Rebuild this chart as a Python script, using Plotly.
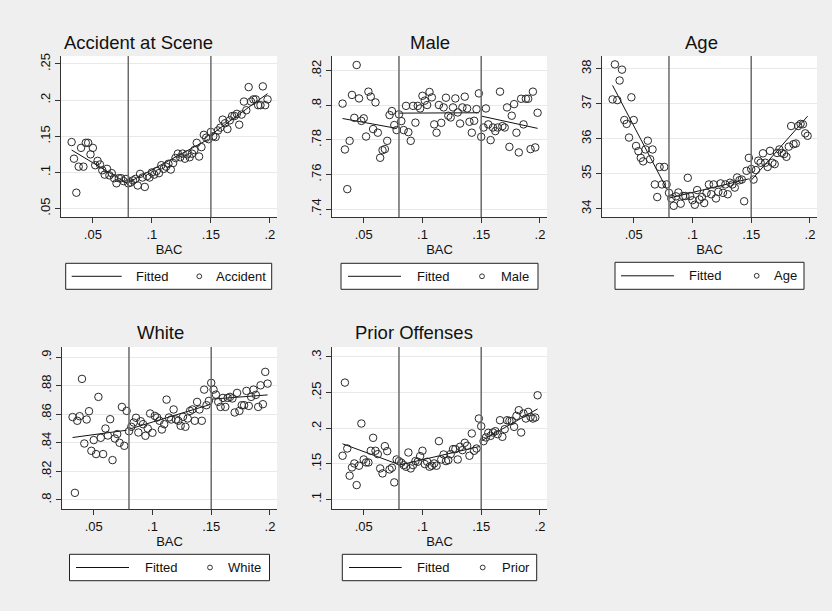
import plotly.graph_objects as go

W, H = 832, 611

# ---------------- data ----------------
bac = [0.032, 0.034, 0.036, 0.038, 0.040, 0.042, 0.044, 0.046, 0.048, 0.050,
       0.052, 0.054, 0.056, 0.058, 0.060, 0.062, 0.064, 0.066, 0.068, 0.070,
       0.072, 0.074, 0.076, 0.078, 0.080, 0.082, 0.084, 0.086, 0.088, 0.090,
       0.092, 0.094, 0.096, 0.098, 0.100, 0.102, 0.104, 0.106, 0.108, 0.110,
       0.112, 0.114, 0.116, 0.118, 0.120, 0.122, 0.124, 0.126, 0.128, 0.130,
       0.132, 0.134, 0.136, 0.138, 0.140, 0.142, 0.144, 0.146, 0.148, 0.150,
       0.152, 0.154, 0.156, 0.158, 0.160, 0.162, 0.164, 0.166, 0.168, 0.170,
       0.172, 0.174, 0.176, 0.178, 0.180, 0.182, 0.184, 0.186, 0.188, 0.190,
       0.192, 0.194, 0.196, 0.198]

cutoffs = [0.08, 0.15]
fit_x = [[0.032, 0.078], [0.080, 0.148], [0.150, 0.198]]

accident = [0.142, 0.119, 0.072, 0.108, 0.134, 0.108, 0.141, 0.141, 0.125, 0.134,
            0.110, 0.116, 0.111, 0.103, 0.097, 0.105, 0.096, 0.099, 0.092, 0.085,
            0.092, 0.092, 0.088, 0.091,
            0.085, 0.086, 0.089, 0.091, 0.082, 0.098, 0.093, 0.080, 0.095, 0.093,
            0.100, 0.097, 0.102, 0.099, 0.110, 0.105, 0.108, 0.112, 0.104, 0.113,
            0.120, 0.126, 0.121, 0.126, 0.119, 0.125, 0.121, 0.126, 0.131, 0.141,
            0.122, 0.135, 0.152, 0.148, 0.146,
            0.156, 0.150, 0.149, 0.158, 0.162, 0.173, 0.168, 0.160, 0.172, 0.178,
            0.178, 0.181, 0.166, 0.180, 0.198, 0.186, 0.218, 0.198, 0.201, 0.201,
            0.193, 0.193, 0.219, 0.193, 0.201]
accident_fit = [[0.131, 0.086], [0.086, 0.146], [0.152, 0.209]]

male = [0.801, 0.7745, 0.7516, 0.7795, 0.806, 0.7928, 0.8233, 0.804, 0.791, 0.7925,
        0.782, 0.8079, 0.805, 0.7863, 0.8017, 0.7842, 0.7697, 0.7741, 0.7747, 0.7795,
        0.7944, 0.7967, 0.7886, 0.7857,
        0.7948, 0.7909, 0.7857, 0.7997, 0.7845, 0.7795, 0.7997, 0.790, 0.7997, 0.7982,
        0.8055, 0.8027, 0.8002, 0.8077, 0.8046, 0.7890, 0.7842, 0.8002, 0.7899, 0.7988,
        0.8044, 0.7940, 0.7930, 0.7988, 0.8040, 0.7959, 0.7895, 0.7988, 0.8050, 0.7982,
        0.7905, 0.7842, 0.7911, 0.7978, 0.8069,
        0.7818, 0.7872, 0.7982, 0.7890, 0.7799, 0.7872, 0.7851, 0.7872, 0.8079, 0.7880,
        0.7872, 0.7988, 0.7760, 0.7940, 0.8007, 0.7842, 0.7728, 0.8038, 0.7890, 0.8038,
        0.8038, 0.7747, 0.8079, 0.7757, 0.7957]
male_fit = [[0.7924, 0.7867], [0.7955, 0.7957], [0.7938, 0.7867]]

age = [37.12, 38.12, 37.10, 37.66, 37.97, 36.53, 36.42, 36.03, 37.18, 36.53,
       35.79, 35.64, 35.45, 35.35, 35.69, 35.94, 35.41, 35.69, 34.69, 34.33,
       35.19, 34.69, 35.19, 34.69,
       34.45, 34.29, 34.08, 34.35, 34.46, 34.14, 34.36, 34.36, 34.88, 34.36,
       34.24, 34.11, 34.53, 34.26, 34.33, 34.16, 34.45, 34.69, 34.41, 34.69,
       34.29, 34.48, 34.72, 34.45, 34.69, 34.41, 34.74, 34.69, 34.60, 34.89,
       34.81, 34.83, 34.21, 35.08, 35.45,
       35.13, 34.83, 35.10, 35.37, 35.31, 35.58, 35.31, 35.19, 35.65, 35.31,
       35.27, 35.59, 35.69, 35.59, 35.56, 35.48, 35.77, 36.36, 35.84, 35.86,
       36.36, 36.42, 36.41, 36.15, 36.08]
age_fit = [[37.52, 34.57], [34.30, 34.85], [34.81, 36.64]]

white = [0.858, 0.805, 0.8554, 0.8586, 0.8847, 0.8395, 0.8563, 0.8621, 0.8344, 0.8419,
         0.8321, 0.8721, 0.8435, 0.8321, 0.850, 0.8451, 0.8565, 0.8279, 0.843, 0.8461,
         0.840, 0.8651, 0.8379, 0.8623,
         0.8481, 0.8512, 0.8542, 0.8575, 0.8472, 0.8551, 0.853, 0.8449, 0.850, 0.8605,
         0.847, 0.8588, 0.8577, 0.8554, 0.8493, 0.853, 0.8702, 0.8577, 0.8563, 0.8633,
         0.8563, 0.8554, 0.8519, 0.8582, 0.8512, 0.8570, 0.8623, 0.8633, 0.8554, 0.8686,
         0.8633, 0.8554, 0.8772, 0.8663, 0.8693,
         0.8819, 0.8772, 0.8737, 0.8686, 0.8651, 0.8714, 0.8651, 0.8714, 0.8721, 0.871,
         0.8612, 0.8749, 0.8623, 0.8663, 0.8663, 0.8763, 0.8658, 0.8721, 0.8772, 0.8735,
         0.8651, 0.8802, 0.867, 0.8896, 0.8814]
white_fit = [[0.8437, 0.8488], [0.8495, 0.8665], [0.8705, 0.8735]]

prior = [0.1612, 0.2640, 0.1714, 0.1332, 0.1448, 0.1504, 0.120, 0.1472, 0.2065, 0.156,
         0.1518, 0.1518, 0.1682, 0.1864, 0.1682, 0.1635, 0.1434, 0.1364, 0.1747, 0.1677,
         0.142, 0.1444, 0.1238, 0.156,
         0.1537, 0.1514, 0.1481, 0.1458, 0.1658, 0.1434, 0.1481, 0.1537, 0.1528, 0.1607,
         0.1682, 0.1495, 0.1528, 0.1458, 0.1472, 0.1504, 0.1472, 0.1817, 0.156, 0.163,
         0.1537, 0.1551, 0.1635, 0.1705, 0.1705, 0.156, 0.1738, 0.1691, 0.1794, 0.1752,
         0.1612, 0.1925, 0.1682, 0.1714, 0.2135,
         0.2027, 0.1817, 0.1869, 0.1934, 0.1892, 0.1939, 0.1957, 0.1915, 0.2111, 0.1878,
         0.1985, 0.2111, 0.2102, 0.2102, 0.2018, 0.2172, 0.2252, 0.1939, 0.2205, 0.2135,
         0.2228, 0.2158, 0.2135, 0.2149, 0.2462]
prior_fit = [[0.178, 0.150], [0.148, 0.174], [0.182, 0.227]]

x_ticks = [0.05, 0.10, 0.15, 0.20]
x_ticktext = [".05", ".1", ".15", ".2"]

accident_ticks = [0.05, 0.10, 0.15, 0.20, 0.25]
accident_ticktext = [".05", ".1", ".15", ".2", ".25"]
male_ticks = [0.74, 0.76, 0.78, 0.80, 0.82]
male_ticktext = [".74", ".76", ".78", ".8", ".82"]
age_ticks = [34, 35, 36, 37, 38]
age_ticktext = ["34", "35", "36", "37", "38"]
white_ticks = [0.80, 0.82, 0.84, 0.86, 0.88, 0.90]
white_ticktext = [".8", ".82", ".84", ".86", ".88", ".9"]
prior_ticks = [0.10, 0.15, 0.20, 0.25, 0.30]
prior_ticktext = [".1", ".15", ".2", ".25", ".3"]

titles = ["Accident at Scene", "Male", "Age", "White", "Prior Offenses"]
legend_labels = ["Accident", "Male", "Age", "White", "Prior"]

# ---------------- layout (pixel geometry) ----------------
FONT = "Arial, 'Liberation Sans', sans-serif"
AX = "#333333"

def fx(px):
    return px / W

def fy(py):
    return 1 - py / H

panels = [
    dict(y=accident, fit=accident_fit, ticks=accident_ticks, tt=accident_ticktext,
         yr=[0.0384, 0.261], box=(61, 56, 277, 217), tx=138.5, ty=42,
         leg=dict(b=(65.7, 263.3, 271.7, 289.3), l=(71.7, 121.7), f=134.3, c=199.3, t=214)),
    dict(y=male, fit=male_fit, ticks=male_ticks, tt=male_ticktext,
         yr=[0.7355, 0.8285], box=(332, 56, 547, 217), tx=430, ty=42,
         leg=dict(b=(341, 263.3, 538, 289.3), l=(348, 401), f=415, c=482, t=499)),
    dict(y=age, fit=age_fit, ticks=age_ticks, tt=age_ticktext,
         yr=[33.76, 38.36], box=(602, 56, 817, 217), tx=701.7, ty=42,
         leg=dict(b=(615, 262.3, 804, 289.3), l=(621, 674), f=687.3, c=756.7, t=771.7)),
    dict(y=white, fit=white_fit, ticks=white_ticks, tt=white_ticktext,
         yr=[0.7937, 0.907], box=(62, 347, 277, 509), tx=160.3, ty=332.5,
         leg=dict(b=(69.5, 554.3, 269.5, 580.7), l=(76, 129), f=142.5, c=210, t=226)),
    dict(y=prior, fit=prior_fit, ticks=prior_ticks, tt=prior_ticktext,
         yr=[0.0864, 0.314], box=(332, 347, 547, 509), tx=413.7, ty=332.5,
         leg=dict(b=(342.3, 554.3, 536.7, 580.7), l=(349, 401.7), f=415, c=482.7, t=500)),
]

fig = go.Figure()
shapes = []
annotations = []
layout_axes = {}

for i, p in enumerate(panels, start=1):
    xa = "x" if i == 1 else f"x{i}"
    ya = "y" if i == 1 else f"y{i}"
    # fitted segments
    fxs, fys = [], []
    for seg_x, seg_y in zip(fit_x, p["fit"]):
        fxs += [seg_x[0], seg_x[1], None]
        fys += [seg_y[0], seg_y[1], None]
    fig.add_trace(go.Scatter(x=fxs, y=fys, mode="lines", xaxis=xa, yaxis=ya,
                             line=dict(color="#111111", width=1), showlegend=False,
                             name="Fitted", hoverinfo="skip"))
    fig.add_trace(go.Scatter(x=bac, y=p["y"], mode="markers", xaxis=xa, yaxis=ya,
                             marker=dict(symbol="circle-open", size=7.5, color="#2a2a2a",
                                         line=dict(width=1, color="#2a2a2a")),
                             showlegend=False, name=legend_labels[i - 1]))
    x0, y0, x1, y1 = p["box"]
    xkey = "xaxis" if i == 1 else f"xaxis{i}"
    ykey = "yaxis" if i == 1 else f"yaxis{i}"
    layout_axes[xkey] = dict(
        domain=[fx(x0), fx(x1)], anchor=ya, range=[0.023, 0.206],
        tickvals=x_ticks, ticktext=x_ticktext, ticks="outside", ticklen=5,
        tickcolor=AX, showline=True, linecolor=AX, linewidth=1, mirror=False,
        showgrid=False, zeroline=False, automargin=False,
        tickfont=dict(family=FONT, size=13, color="#111111"),
        title=dict(text="BAC", font=dict(family=FONT, size=13, color="#111111"), standoff=2),
    )
    layout_axes[ykey] = dict(
        domain=[fy(y1), fy(y0)], anchor=xa, range=p["yr"],
        tickvals=p["ticks"], ticktext=p["tt"], tickangle=-90, ticks="outside", ticklen=5,
        tickcolor=AX, showline=True, linecolor=AX, linewidth=1, mirror=False,
        showgrid=True, gridcolor="#e8e8e8", gridwidth=1, zeroline=False, automargin=False,
        tickfont=dict(family=FONT, size=13, color="#111111"),
    )
    for c in cutoffs:
        shapes.append(dict(type="line", xref=xa, yref=f"{ya} domain", x0=c, x1=c, y0=0, y1=1,
                           line=dict(color="#6a6a6a", width=1.5), layer="above"))
    # title
    annotations.append(dict(text=titles[i - 1], x=fx(p["tx"]), y=fy(p["ty"]), xref="paper",
                            yref="paper", xanchor="center", yanchor="middle", showarrow=False,
                            font=dict(family=FONT, size=18.5, color="#111111")))
    # legend box
    lg = p["leg"]
    bx0, by0, bx1, by1 = lg["b"]
    cy = (by0 + by1) / 2
    shapes.append(dict(type="rect", xref="paper", yref="paper", x0=fx(bx0), x1=fx(bx1),
                       y0=fy(by1), y1=fy(by0), fillcolor="white",
                       line=dict(color="#222222", width=1), layer="above"))
    shapes.append(dict(type="line", xref="paper", yref="paper", x0=fx(lg["l"][0]), x1=fx(lg["l"][1]),
                       y0=fy(cy), y1=fy(cy), line=dict(color="#111111", width=1), layer="above"))
    r = 2.4
    shapes.append(dict(type="circle", xref="paper", yref="paper", x0=fx(lg["c"] - r), x1=fx(lg["c"] + r),
                       y0=fy(cy + r), y1=fy(cy - r), line=dict(color="#333333", width=1),
                       layer="above"))
    annotations.append(dict(text="Fitted", x=fx(lg["f"]), y=fy(cy), xref="paper", yref="paper",
                            xanchor="left", yanchor="middle", showarrow=False,
                            font=dict(family=FONT, size=13, color="#111111")))
    annotations.append(dict(text=legend_labels[i - 1], x=fx(lg["t"]), y=fy(cy), xref="paper",
                            yref="paper", xanchor="left", yanchor="middle", showarrow=False,
                            font=dict(family=FONT, size=13, color="#111111")))

fig.update_layout(
    width=W, height=H, margin=dict(l=0, r=0, t=0, b=0),
    paper_bgcolor="#efefef", plot_bgcolor="white",
    showlegend=False, shapes=shapes, annotations=annotations,
    font=dict(family=FONT, size=13, color="#111111"),
    **layout_axes,
)

fig.write_html("out.html")
